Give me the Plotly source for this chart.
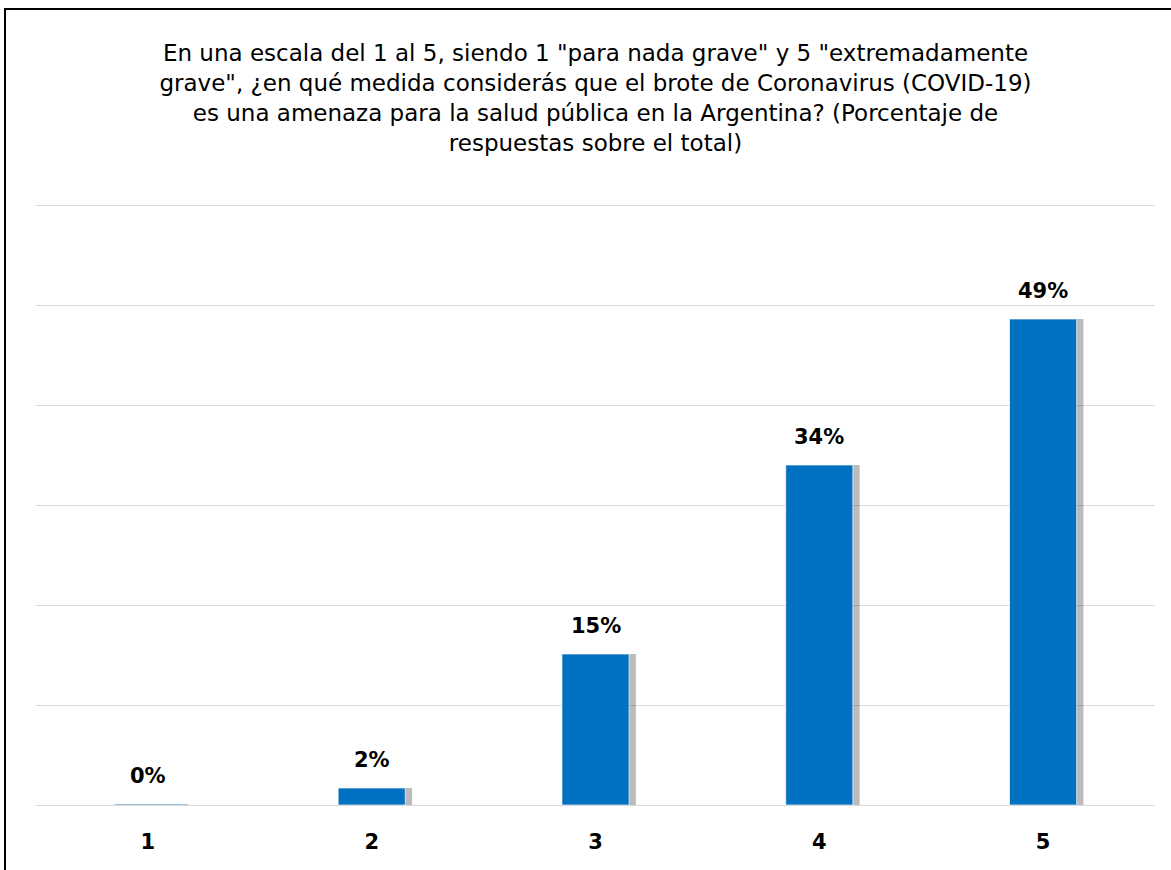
import plotly.graph_objects as go

categories = ["1", "2", "3", "4", "5"]
values = [0.1, 1.7, 15.1, 34.0, 48.6]
labels = ["0%", "2%", "15%", "34%", "49%"]
title_lines = [
    'En una escala del 1 al 5, siendo 1 "para nada grave" y 5 "extremadamente',
    'grave", ¿en qué medida considerás que el brote de Coronavirus (COVID-19)',
    'es una amenaza para la salud pública en la Argentina? (Porcentaje de',
    'respuestas sobre el total)',
]

FONT = "DejaVu Sans"
BAR_W = 0.3

fig = go.Figure()
# soft shadow halo
fig.add_trace(go.Bar(
    x=categories, y=values, width=BAR_W + 0.02, offset=-BAR_W / 2 + 0.012,
    marker=dict(color="rgba(0,0,0,0.06)", line=dict(width=0)),
    hoverinfo="skip", showlegend=False,
))
# shadow
fig.add_trace(go.Bar(
    x=categories, y=values, width=BAR_W, offset=-BAR_W / 2 + 0.03,
    marker=dict(color="rgba(0,0,0,0.22)", line=dict(width=0)),
    hoverinfo="skip", showlegend=False,
))
# main bars
fig.add_trace(go.Bar(
    x=categories, y=values, width=BAR_W, offset=-BAR_W / 2,
    marker=dict(color="#0070C0", line=dict(color="rgba(255,255,255,0.7)", width=1)),
    showlegend=False,
))

for i, (v, t) in enumerate(zip(values, labels)):
    fig.add_annotation(
        x=i, y=v, text=f"<b>{t}</b>", showarrow=False,
        yanchor="bottom", yshift=14,
        font=dict(family=FONT, size=21, color="#000000"),
    )

fig.update_layout(
    width=1171, height=870,
    margin=dict(l=36, r=16, t=185, b=65),
    paper_bgcolor="white", plot_bgcolor="white",
    barmode="overlay",
    title=dict(
        text="<br>".join(title_lines),
        x=0.5, xref="paper", xanchor="center",
        y=0.93, yref="container", yanchor="top",
        font=dict(family=FONT, size=23, color="#000000"),
    ),
    xaxis=dict(
        type="category", showgrid=False, showline=False, zeroline=False,
        ticks="", ticklabelstandoff=22,
        tickfont=dict(family=FONT, size=21, color="#000000", weight="bold"),
    ),
    yaxis=dict(
        range=[0, 62], tickvals=[0, 10, 20, 30, 40, 50, 60], showticklabels=False,
        showgrid=True, gridcolor="#D9D9D9", gridwidth=1,
        zeroline=True, zerolinecolor="#D9D9D9", zerolinewidth=1,
        showline=False,
    ),
    shapes=[dict(
        type="rect", xref="paper", yref="paper",
        x0=-0.0277, x1=1.2, y0=-0.3, y1=1.2839,
        line=dict(color="#000000", width=2), fillcolor="rgba(0,0,0,0)",
        layer="below",
    )],
)

fig.write_html(
    "out.html",
    config={"displayModeBar": False},
    post_script="document.body.style.margin='0';",
)
